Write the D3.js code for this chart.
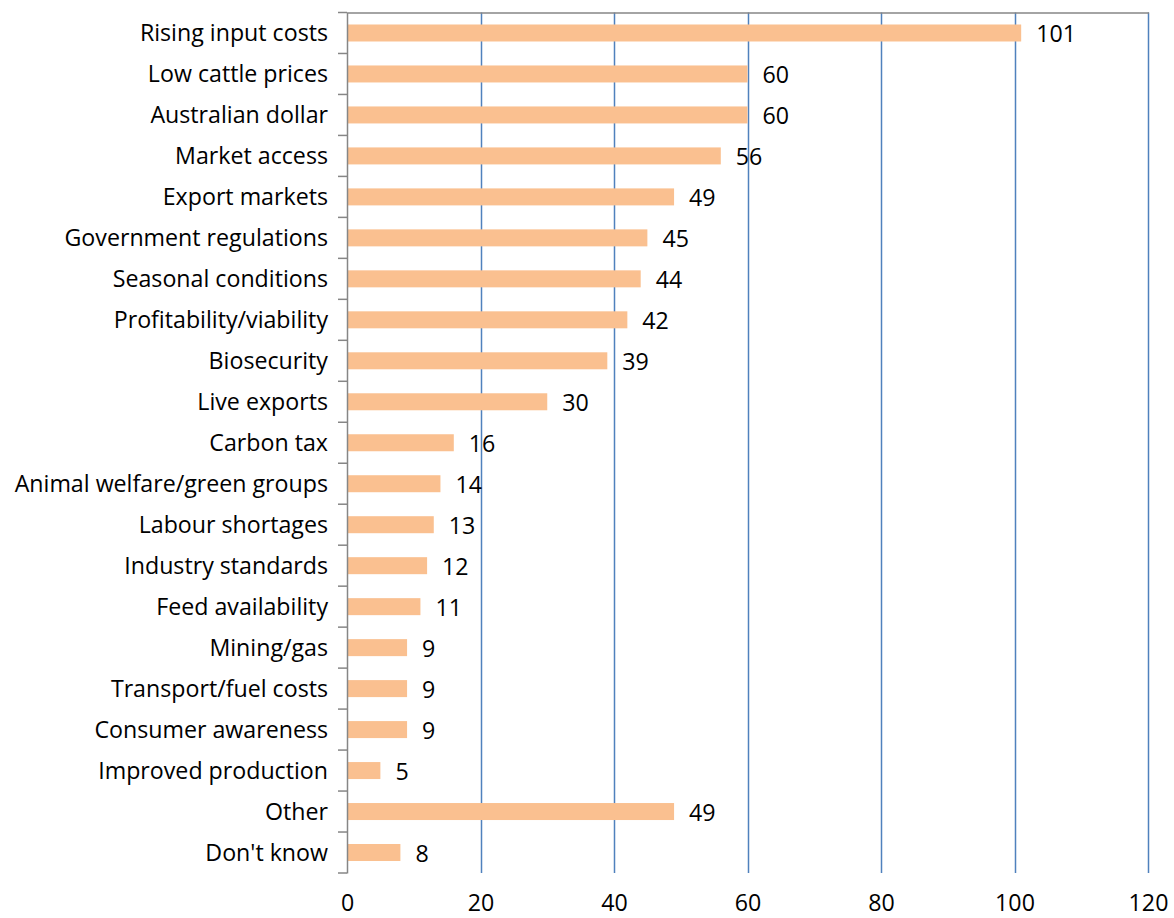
<!DOCTYPE html>
<html><head><meta charset="utf-8">
<script src="https://cdn.jsdelivr.net/npm/d3@7"></script>
<style>body{margin:0;background:#fff;} text{font-family:"Open Sans",Calibri,sans-serif;fill:#000;}</style>
</head><body>
<svg id="c" width="1174" height="918"></svg>
<script>
const categories = ["Rising input costs","Low cattle prices","Australian dollar","Market access","Export markets","Government regulations","Seasonal conditions","Profitability/viability","Biosecurity","Live exports","Carbon tax","Animal welfare/green groups","Labour shortages","Industry standards","Feed availability","Mining/gas","Transport/fuel costs","Consumer awareness","Improved production","Other","Don't know"];
const values = [101,60,60,56,49,45,44,42,39,30,16,14,13,12,11,9,9,9,5,49,8];
const xTicks = [0,20,40,60,80,100,120];

(function(){
const svg = d3.select("#c");
const L = 347, R = 1148, T = 12.5, B = 873;
const FS = 23.2;
const x = d3.scaleLinear().domain([0,120]).range([L,R]);
const yb = d3.scaleBand().domain(categories).range([T,B]);

// gridlines
svg.append("g").selectAll("line").data(xTicks.slice(1)).join("line")
  .attr("x1",d=>Math.round(x(d))+0.5).attr("x2",d=>Math.round(x(d))+0.5)
  .attr("y1",T).attr("y2",B)
  .attr("stroke","#4F81BD").attr("stroke-width",1.5);
// top border
svg.append("line").attr("x1",L).attr("x2",R+1).attr("y1",T+0.5).attr("y2",T+0.5)
  .attr("stroke","#868686").attr("stroke-width",1.5);

// bars
svg.append("g").selectAll("rect").data(values).join("rect")
  .attr("x",x(0)).attr("y",(d,i)=>yb(categories[i])+yb.bandwidth()/2-8.5)
  .attr("width",d=>x(d)-x(0)).attr("height",17)
  .attr("fill","#FAC090");

// value labels
svg.append("g").selectAll("text").data(values).join("text")
  .attr("x",d=>x(d)+15).attr("y",(d,i)=>yb(categories[i])+yb.bandwidth()/2+1)
  .attr("dy","0.36em").attr("font-size",FS).text(d=>d);

// y axis
const yAxis = d3.axisLeft(yb).tickSize(0).tickPadding(19);
const gy = svg.append("g").attr("transform",`translate(${L},0)`).call(yAxis);
gy.select(".domain").attr("stroke","#868686").attr("stroke-width",1.5);
gy.selectAll("text").attr("font-size",FS).attr("font-family","'Open Sans',sans-serif").attr("fill","#000").attr("dy","0.36em");
// category boundary ticks
const bounds = categories.map(c=>yb(c)).concat([B]);
svg.append("g").selectAll("line").data(bounds).join("line")
  .attr("x1",L-9).attr("x2",L).attr("y1",d=>d).attr("y2",d=>d)
  .attr("stroke","#868686").attr("stroke-width",1.5);

// x axis labels
const xAxis = d3.axisBottom(x).tickValues(xTicks).tickSize(0).tickPadding(22);
const gx = svg.append("g").attr("transform",`translate(0,${B})`).call(xAxis);
gx.select(".domain").remove();
gx.selectAll("text").attr("font-size",FS).attr("font-family","'Open Sans',sans-serif").attr("fill","#000");
})();
</script>
</body></html>
